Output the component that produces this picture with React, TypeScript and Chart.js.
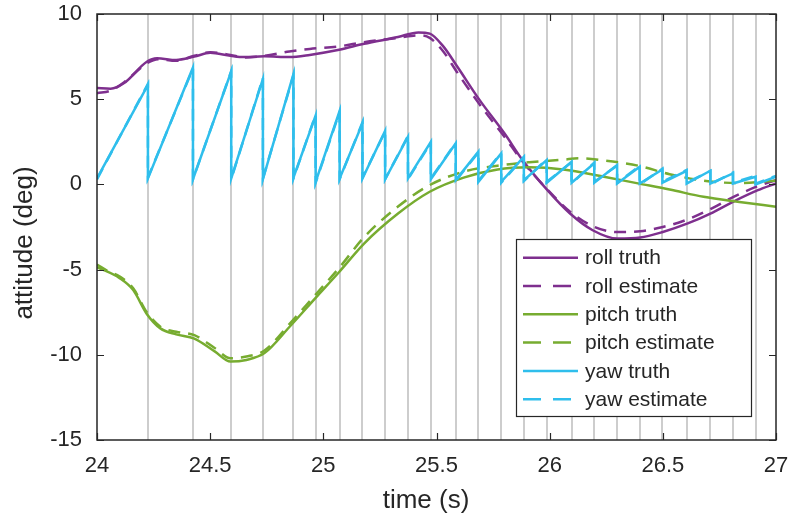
import React, { useEffect, useRef } from "react";
import { Chart, registerables } from "chart.js";

Chart.register(...registerables);

const FONT = "'Liberation Sans', Arial, Helvetica, sans-serif";
const TEXT = "#262626";

// ---- axis ticks ----
const xTickValues = [24, 24.5, 25, 25.5, 26, 26.5, 27];
const yTickValues = [-15, -10, -5, 0, 5, 10];

// ---- roll ----
const rollTruthTime = [24.0, 24.06, 24.12, 24.22, 24.265, 24.35, 24.43, 24.5, 24.59, 24.65, 24.74, 24.85, 24.94, 25.07, 25.18, 25.33, 25.42, 25.47, 25.53, 25.59, 25.69, 25.8, 25.88, 25.99, 26.09, 26.19, 26.3, 26.4, 26.5, 26.61, 26.71, 26.81, 26.92, 27.0];
const rollTruth = [5.65, 5.62, 5.95, 7.2, 7.4, 7.3, 7.5, 7.72, 7.55, 7.47, 7.52, 7.47, 7.6, 7.9, 8.25, 8.65, 8.92, 8.85, 8.1, 6.95, 4.96, 3.0, 1.43, -0.34, -1.71, -2.69, -3.18, -3.12, -2.79, -2.29, -1.71, -1.02, -0.34, 0.06];
const rollEstTime = [24.0, 24.06, 24.12, 24.22, 24.27, 24.35, 24.43, 24.5, 24.59, 24.65, 24.74, 24.85, 24.94, 25.07, 25.18, 25.33, 25.42, 25.47, 25.53, 25.59, 25.69, 25.8, 25.88, 25.99, 26.09, 26.19, 26.3, 26.4, 26.5, 26.61, 26.71, 26.81, 26.92, 27.0];
const rollEst = [5.35, 5.5, 6.0, 7.1, 7.35, 7.25, 7.55, 7.75, 7.6, 7.45, 7.55, 7.8, 7.95, 8.1, 8.35, 8.6, 8.75, 8.6, 7.8, 6.6, 4.7, 2.8, 1.35, -0.3, -1.6, -2.45, -2.8, -2.75, -2.5, -2.05, -1.45, -0.75, -0.1, 0.25];

// ---- pitch ----
const pitchTruthTime = [24.0, 24.1, 24.16, 24.22, 24.28, 24.35, 24.43, 24.52, 24.59, 24.66, 24.74, 24.85, 24.97, 25.07, 25.18, 25.33, 25.47, 25.62, 25.77, 25.91, 26.06, 26.24, 26.39, 26.53, 26.68, 26.83, 27.0];
const pitchTruth = [-4.85, -5.5, -6.2, -7.6, -8.45, -8.8, -9.05, -9.8, -10.4, -10.3, -9.9, -8.37, -6.6, -5.14, -3.47, -1.71, -0.43, 0.4, 0.88, 1.0, 0.88, 0.45, 0.06, -0.3, -0.73, -1.02, -1.31];
const pitchEstTime = [24.0, 24.05, 24.1, 24.16, 24.22, 24.28, 24.35, 24.43, 24.52, 24.59, 24.66, 24.74, 24.85, 24.97, 25.07, 25.18, 25.33, 25.47, 25.62, 25.77, 25.91, 26.06, 26.13, 26.24, 26.39, 26.53, 26.68, 26.83, 27.0];
const pitchEst = [-4.7, -5.1, -5.4, -6.1, -7.5, -8.35, -8.65, -8.85, -9.6, -10.2, -10.1, -9.75, -8.2, -6.4, -4.9, -3.1, -1.3, -0.04, 0.75, 1.1, 1.3, 1.45, 1.53, 1.4, 1.1, 0.6, 0.22, 0.08, 0.22];

// ---- yaw (sawtooth, resets at the gray lines) ----
const yawResetTimes = [24.225, 24.424, 24.593, 24.733, 24.868, 24.966, 25.072, 25.173, 25.273, 25.374, 25.475, 25.585, 25.685, 25.786, 25.886, 25.987, 26.097, 26.197, 26.298, 26.398, 26.498, 26.605, 26.71, 26.81, 26.91];
const yawTruthBase = [0.35, 0.35, 0.3, 0.35, 0.3, 0.4, 0.15, 0.35, 0.35, 0.3, 0.35, 0.3, 0.25, 0.15, 0.15, 0.25, 0.1, 0.1, 0.1, 0.05, 0.05, 0.1, 0.05, 0.05, 0.05, 0.0];
const yawTruthPeak = [5.84, 6.86, 6.62, 6.19, 6.47, 4.04, 4.31, 3.59, 3.14, 2.8, 2.5, 2.41, 1.92, 1.82, 1.62, 1.43, 1.33, 1.24, 1.14, 1.04, 0.88, 0.8, 0.8, 0.65, 0.45, 0.45];
const yawEstBase = [0.3, 0.4, 0.3, 0.3, 0.35, 0.35, 0.1, 0.3, 0.4, 0.3, 0.3, 0.35, 0.2, 0.2, 0.1, 0.2, 0.15, 0.05, 0.15, 0.1, 0.0, 0.15, 0.1, 0.0, 0.1, 0.05];
const yawEstPeak = [5.9, 6.8, 6.65, 6.25, 6.4, 4.1, 4.25, 3.65, 3.1, 2.85, 2.45, 2.45, 1.88, 1.85, 1.58, 1.48, 1.3, 1.28, 1.1, 1.08, 0.92, 0.85, 0.78, 0.7, 0.5, 0.5];

const ROLL = "#7E2F8E";
const PITCH = "#77AC30";
const YAW = "#2FBEEC";

const toPoints = (ts: number[], vs: number[]) => ts.map((t, i) => ({ x: t, y: vs[i] }));

function sawtooth(bases: number[], peaks: number[]) {
  const bounds = [xTickValues[0], ...yawResetTimes, xTickValues[xTickValues.length - 1]];
  const out: { x: number; y: number }[] = [];
  for (let i = 0; i < bases.length; i++) {
    out.push({ x: bounds[i], y: bases[i] });
    out.push({ x: bounds[i + 1], y: peaks[i] });
  }
  return out;
}

const resetLinesPlugin = {
  id: "resetLines",
  beforeDatasetsDraw(chart: any) {
    const { ctx, chartArea, scales } = chart;
    ctx.save();
    ctx.strokeStyle = "#cdcdcd";
    ctx.lineWidth = 2;
    for (const t of yawResetTimes) {
      const px = Math.round(scales.x.getPixelForValue(t));
      ctx.beginPath();
      ctx.moveTo(px, chartArea.top);
      ctx.lineTo(px, chartArea.bottom);
      ctx.stroke();
    }
    ctx.restore();
  },
};

const framePlugin = {
  id: "frame",
  afterDatasetsDraw(chart: any) {
    const { ctx, chartArea, scales } = chart;
    const { left, right, top, bottom } = chartArea;
    const L = 7;
    ctx.save();
    ctx.strokeStyle = TEXT;
    ctx.lineWidth = 1.5;
    ctx.strokeRect(left, top, right - left, bottom - top);
    ctx.lineWidth = 1.2;
    ctx.beginPath();
    for (const v of xTickValues) {
      const px = Math.round(scales.x.getPixelForValue(v)) + 0.5;
      ctx.moveTo(px, bottom);
      ctx.lineTo(px, bottom - L);
      ctx.moveTo(px, top);
      ctx.lineTo(px, top + L);
    }
    for (const v of yTickValues) {
      const py = Math.round(scales.y.getPixelForValue(v)) + 0.5;
      ctx.moveTo(left, py);
      ctx.lineTo(left + L, py);
      ctx.moveTo(right, py);
      ctx.lineTo(right - L, py);
    }
    ctx.stroke();
    ctx.restore();
  },
};

const legendAndTitlesPlugin = {
  id: "legendTitles",
  afterDraw(chart: any) {
    const { ctx, chartArea } = chart;
    ctx.save();
    // axis titles
    ctx.fillStyle = TEXT;
    ctx.font = `26px ${FONT}`;
    ctx.textAlign = "center";
    ctx.textBaseline = "middle";
    ctx.fillText("time (s)", chartArea.left + 329, 501);
    ctx.save();
    ctx.translate(25, chartArea.top + 229);
    ctx.rotate(-Math.PI / 2);
    ctx.fillText("attitude (deg)", 0, 0);
    ctx.restore();

    // legend box
    const bx = 516.5, by = 239.5, bw = 235, bh = 177;
    ctx.fillStyle = "#ffffff";
    ctx.fillRect(bx, by, bw, bh);
    ctx.strokeStyle = TEXT;
    ctx.lineWidth = 1.2;
    ctx.strokeRect(bx, by, bw, bh);
    ctx.font = `21px ${FONT}`;
    ctx.textAlign = "left";
    ctx.textBaseline = "middle";
    chart.data.datasets.forEach((ds: any, i: number) => {
      const y = 257.7 + 28.3 * i;
      ctx.strokeStyle = ds.borderColor;
      ctx.lineWidth = 2.5;
      ctx.setLineDash(ds.borderDash && ds.borderDash.length ? [18, 12] : []);
      ctx.beginPath();
      ctx.moveTo(523, y);
      ctx.lineTo(578, y);
      ctx.stroke();
      ctx.setLineDash([]);
      ctx.fillStyle = TEXT;
      ctx.fillText(ds.label, 585, y + 1);
    });
    ctx.restore();
  },
};

export default function App() {
  const ref = useRef<HTMLCanvasElement | null>(null);

  useEffect(() => {
    if (!ref.current) return;
    const common = { pointRadius: 0, borderWidth: 2.5, fill: false };
    const chart = new Chart(ref.current, {
      type: "line",
      data: {
        datasets: [
          { ...common, label: "roll truth", data: toPoints(rollTruthTime, rollTruth), borderColor: ROLL, cubicInterpolationMode: "monotone", order: 6 },
          { ...common, label: "roll estimate", data: toPoints(rollEstTime, rollEst), borderColor: ROLL, borderDash: [12, 8], cubicInterpolationMode: "monotone", order: 5 },
          { ...common, label: "pitch truth", data: toPoints(pitchTruthTime, pitchTruth), borderColor: PITCH, cubicInterpolationMode: "monotone", order: 4 },
          { ...common, label: "pitch estimate", data: toPoints(pitchEstTime, pitchEst), borderColor: PITCH, borderDash: [12, 8], cubicInterpolationMode: "monotone", order: 3 },
          { ...common, label: "yaw truth", data: sawtooth(yawTruthBase, yawTruthPeak), borderColor: YAW, tension: 0, order: 2 },
          { ...common, label: "yaw estimate", data: sawtooth(yawEstBase, yawEstPeak), borderColor: YAW, borderDash: [12, 8], tension: 0, order: 1 },
        ] as any,
      },
      options: {
        animation: false,
        responsive: false,
        devicePixelRatio: 1,
        layout: { padding: { left: 0, top: 14, right: 19, bottom: 0 } },
        plugins: { legend: { display: false }, tooltip: { enabled: false } },
        scales: {
          x: {
            type: "linear",
            min: 24,
            max: 27,
            afterFit: (s: any) => { s.height = 77; s.paddingLeft = 0; s.paddingRight = 0; },
            afterBuildTicks: (s: any) => { s.ticks = xTickValues.map((v) => ({ value: v })); },
            grid: { display: false, drawTicks: false },
            border: { display: false },
            ticks: { color: TEXT, font: { family: FONT, size: 22 }, padding: 13, maxRotation: 0, autoSkip: false, callback: (v: any) => String(v) },
          },
          y: {
            type: "linear",
            min: -15,
            max: 10,
            afterFit: (s: any) => { s.width = 97; s.paddingTop = 0; s.paddingBottom = 0; },
            afterBuildTicks: (s: any) => { s.ticks = yTickValues.map((v) => ({ value: v })); },
            grid: { display: false, drawTicks: false },
            border: { display: false },
            ticks: { color: TEXT, font: { family: FONT, size: 22 }, padding: 15, autoSkip: false, callback: (v: any) => String(v) },
          },
        },
      } as any,
      plugins: [resetLinesPlugin, framePlugin, legendAndTitlesPlugin],
    });
    return () => chart.destroy();
  }, []);

  return (
    <div style={{ position: "absolute", left: 0, top: 0, width: 795, height: 517, background: "#fff" }}>
      <canvas ref={ref} width={795} height={517} />
    </div>
  );
}
